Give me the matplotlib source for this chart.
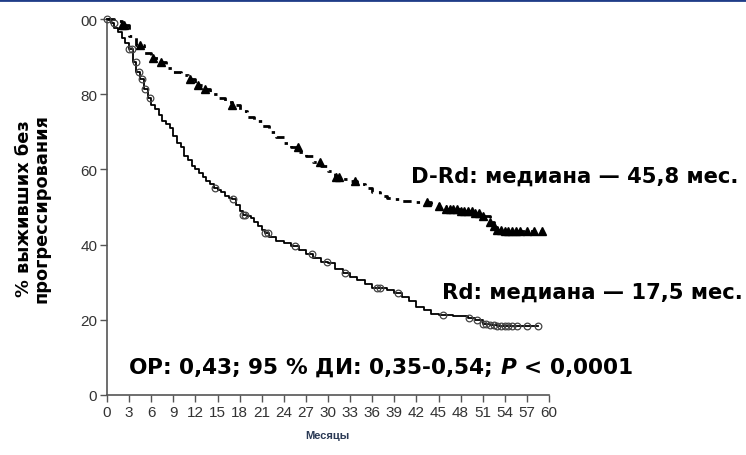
import matplotlib
matplotlib.use("Agg")
import matplotlib.pyplot as plt
import numpy as np

# ---------------- data ----------------
rd_t = [0, 0.5, 1, 1.5, 2, 2.5, 3, 3.5, 4, 4.5, 5, 5.5, 6, 6.5, 7, 7.5, 8, 8.5, 9, 9.5,
        10, 10.5, 11, 11.5, 12, 12.5, 13, 13.5, 14, 14.5, 15, 15.5, 16, 16.5, 17, 17.5, 18,
        18.5, 19, 19.5, 20, 20.5, 21, 21.5, 22, 23, 24, 25, 26, 27, 28,
        29, 30, 31, 32, 33, 34, 35, 36, 38, 39, 40, 41, 42, 43, 44, 45, 47, 49, 50, 51,
        52, 53, 58.5]
rd_s = [100, 99, 97.5, 96.5, 95, 93.5, 92, 88.5, 86, 84, 81.5, 79, 77, 76, 74.5, 73, 72, 71, 69, 67,
        66, 63.5, 62.5, 61, 60, 59, 58, 57, 56, 55, 54.5, 54, 53, 52.5, 52, 50.5, 49,
        48, 47.5, 47, 46, 45, 44, 43, 42, 41, 40.5, 39.5, 38.5, 37.5, 36.5,
        35.5, 35, 33.5, 32.5, 31.5, 30.5, 29.5, 28.5, 28, 27, 26, 25, 23.5, 22.5, 21.5, 21.2, 21, 20.5, 20, 19,
        18.5, 18.3, 18.3]
rd_cens = [0, 0.95, 3.0, 3.4, 3.9, 4.4, 4.7, 5.2, 5.8, 14.7, 17.1, 18.5, 18.8, 21.5, 21.8,
           25.5, 27.8, 29.9, 32.3, 36.6, 37.0, 39.5, 45.6, 49.1, 50.2, 51, 51.5, 52, 52.5,
           53, 53.5, 54, 54.5, 55, 55.7, 57.0, 58.5]

drd_t = [0, 1, 2, 3, 4, 5, 6, 7, 8, 9, 10, 11, 12, 13, 14, 15, 16, 17, 18, 19, 20, 21, 22,
         23, 24, 25, 26, 27, 28, 29, 30, 31, 32, 33, 34, 35, 36, 37, 38, 39, 40, 42, 44, 45,
         46, 48, 50, 51, 52, 52.5, 53, 54, 59]
drd_s = [100, 99.5, 98.5, 95.5, 93, 91, 89.5, 88.5, 87, 86, 85, 84, 82.5, 81.5, 80, 79, 78, 77,
         75.5, 74, 73, 71.5, 70, 68.5, 67, 66, 64.5, 63.5, 62, 61, 59.5, 58, 57.5, 57, 56, 55, 54,
         53, 52.5, 52, 51.5, 51.3, 50.8, 50.2, 49.5, 49, 48.5, 47.5, 46, 45, 44, 43.7, 43.7]
drd_cens = [2.0, 2.3, 4.5, 6.2, 7.3, 11.3, 12.4, 13.3, 17.0, 25.9, 28.9, 31.1, 31.5, 33.7,
            43.4, 45, 46, 46.5, 47, 47.5, 48, 48.5, 49, 49.5, 50, 50.5, 51, 52, 52.5, 53,
            53.5, 54, 54.5, 55, 55.5, 56, 57, 58, 59]

x_ticks = list(range(0, 61, 3))
y_ticks = [0, 20, 40, 60, 80, 100]
y_tick_labels = ["0", "20", "40", "60", "80", "00"]

label_drd = "D-Rd: медиана — 45,8 мес."
label_rd = "Rd: медиана — 17,5 мес."
stats_text = "ОР: 0,43; 95 % ДИ: 0,35-0,54; $\\mathbfit{P}$ < 0,0001"
xlabel = "Месяцы"
ylabel = "% выживших без\nпрогрессирования"


def surv_at(ts, ss, t):
    idx = np.searchsorted(ts, t, side="right") - 1
    return ss[max(idx, 0)]


plt.rcParams["mathtext.fontset"] = "dejavusans"

fig = plt.figure(figsize=(7.46, 4.56), dpi=100)
ax = fig.add_axes([107 / 746, 1 - 396 / 456, 442 / 746, 376 / 456])

# curves
ax.step(rd_t, rd_s, where="post", color="black", lw=1.3, clip_on=False, zorder=3)
ax.step(drd_t, drd_s, where="post", color="black", lw=2.0,
        linestyle=(0, (3, 2.2, 1.2, 2.2)), clip_on=False, zorder=3)

rd_cy = [surv_at(rd_t, rd_s, t) for t in rd_cens]
ax.plot(rd_cens, rd_cy, linestyle="none", marker="o", markersize=4.8,
        markerfacecolor="none", markeredgecolor="#444444", markeredgewidth=0.9,
        clip_on=False, zorder=4)
drd_cy = [surv_at(drd_t, drd_s, t) for t in drd_cens]
ax.plot(drd_cens, drd_cy, linestyle="none", marker="^", markersize=5.5,
        color="black", clip_on=False, zorder=4)

ax.set_xlim(0, 60)
ax.set_ylim(0, 100)
for s in ["top", "right"]:
    ax.spines[s].set_visible(False)
for s in ["left", "bottom"]:
    ax.spines[s].set_color("#555555")
    ax.spines[s].set_linewidth(1.2)

tick_font = ["Liberation Sans Narrow", "Liberation Sans", "DejaVu Sans"]
ax.set_xticks(x_ticks)
ax.set_xticklabels([str(v) for v in x_ticks], family=tick_font, fontsize=11, color="#333333")
ax.set_yticks(y_ticks)
ax.set_yticklabels(y_tick_labels, family=tick_font, fontsize=11, color="#333333")
ax.tick_params(axis="both", length=5, width=1.0, color="#555555", direction="out", pad=2)

fig.text(327 / 746, 1 - 436 / 456, xlabel, ha="center", va="center",
         fontsize=8, fontweight="bold", color="#2b3a55",
         family=["Liberation Sans", "DejaVu Sans"])
fig.text(33 / 746, 1 - 209 / 456, ylabel, ha="center", va="center", rotation=90,
         fontsize=12.8, fontweight="bold", color="black", family="DejaVu Sans",
         linespacing=1.0)

fig.text(738 / 746, 1 - 177 / 456, label_drd, ha="right", va="center",
         fontsize=15.2, fontweight="bold", family="DejaVu Sans")
fig.text(743 / 746, 1 - 293 / 456, label_rd, ha="right", va="center",
         fontsize=15.2, fontweight="bold", family="DejaVu Sans")
fig.text(128 / 746, 1 - 368 / 456, stats_text, ha="left", va="center",
         fontsize=15.6, fontweight="bold", family="DejaVu Sans")

# top border line
fig.add_artist(plt.Line2D([0, 1], [0.998, 0.998], transform=fig.transFigure,
                          color="#1f3c88", lw=2.0))

fig.savefig("out.png", dpi=100)
